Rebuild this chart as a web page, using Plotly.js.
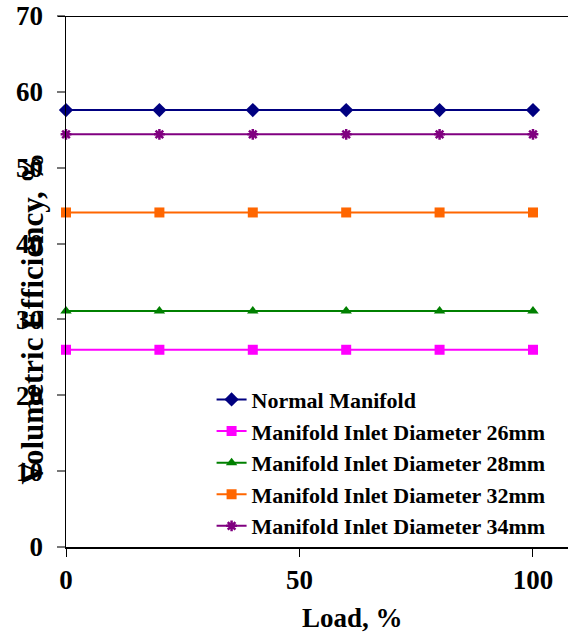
<!DOCTYPE html>
<html>
<head>
<meta charset="utf-8">
<script src="https://cdn.plot.ly/plotly-3.0.1.min.js"></script>
<style>html,body{margin:0;padding:0;background:#fff;}#chart{width:569px;height:634px;}</style>
</head>
<body>
<div id="chart"></div>
<script>
const loads = [0, 20, 40, 60, 80, 100];
const seriesNames = ["Normal Manifold", "Manifold Inlet Diameter 26mm", "Manifold Inlet Diameter 28mm", "Manifold Inlet Diameter 32mm", "Manifold Inlet Diameter 34mm"];
const normalManifold = [57.6, 57.6, 57.6, 57.6, 57.6, 57.6];
const inlet26mm = [26.0, 26.0, 26.0, 26.0, 26.0, 26.0];
const inlet28mm = [31.1, 31.1, 31.1, 31.1, 31.1, 31.1];
const inlet32mm = [44.1, 44.1, 44.1, 44.1, 44.1, 44.1];
const inlet34mm = [54.4, 54.4, 54.4, 54.4, 54.4, 54.4];
const xTicks = [0, 50, 100];
const yTicks = [0, 10, 20, 30, 40, 50, 60, 70];

const colors = ["#000080", "#FF00FF", "#008000", "#FF6600", "#800080"];
const symbols = ["diamond", "square", "triangle-up", "square", "asterisk-open"];
const sizes = [11, 10, 10, 10, 9];
const values = [normalManifold, inlet26mm, inlet28mm, inlet32mm, inlet34mm];

const traces = values.map((v, i) => ({
  x: loads, y: v, name: seriesNames[i], type: "scatter", mode: "lines+markers",
  line: {color: colors[i], width: 2},
  marker: {symbol: symbols[i], size: sizes[i], color: colors[i],
           line: {color: colors[i], width: i === 4 ? 2.5 : 0}},
  cliponaxis: false
}));

const font = "Liberation Serif, Times New Roman, serif";
const layout = {
  width: 569, height: 634,
  margin: {l: 66, r: 1, t: 16, b: 87},
  paper_bgcolor: "#fff", plot_bgcolor: "#fff",
  showlegend: true,
  legend: {x: 0.29, y: 0.317, xanchor: "left", yanchor: "top", bgcolor: "rgba(0,0,0,0)",
           font: {family: font, size: 22, color: "#000", weight: "bold"}, tracegroupgap: 0},
  xaxis: {range: [0, 107.5], tickvals: xTicks, ticktext: xTicks.map(String),
          showgrid: false, zeroline: false, showline: true, linecolor: "#000", linewidth: 1.5,
          ticks: "outside", ticklen: 8, tickcolor: "#000", tickwidth: 1, ticklabelstandoff: 0,
          tickfont: {family: font, size: 27, color: "#000", weight: "bold"}},
  yaxis: {range: [0, 70], tickvals: yTicks, ticktext: yTicks.map(String),
          showgrid: false, zeroline: false, showline: true, linecolor: "#000", linewidth: 1.5,
          ticks: "outside", ticklen: 8, tickcolor: "#777", tickwidth: 2, ticklabelstandoff: 8,
          tickfont: {family: font, size: 27, color: "#000", weight: "bold"}},
  shapes: [{type: "line", xref: "paper", yref: "y", x0: -0.016, x1: 1, y0: 70, y1: 70,
            line: {color: "#000", width: 2}}],
  annotations: [
    {text: "Load, %", xref: "paper", yref: "paper", x: 0.57, y: -0.134, xanchor: "center", yanchor: "middle",
     showarrow: false, font: {family: font, size: 27, color: "#000", weight: "bold"}},
    {text: "Volumetric Efficiency, %", xref: "paper", yref: "paper", x: -0.066, y: 0.43,
     xanchor: "center", yanchor: "middle", textangle: -90,
     showarrow: false, font: {family: font, size: 31, color: "#000", weight: "bold"}}
  ]
};

Plotly.newPlot("chart", traces, layout, {displayModeBar: false, staticPlot: true});
</script>
</body>
</html>
